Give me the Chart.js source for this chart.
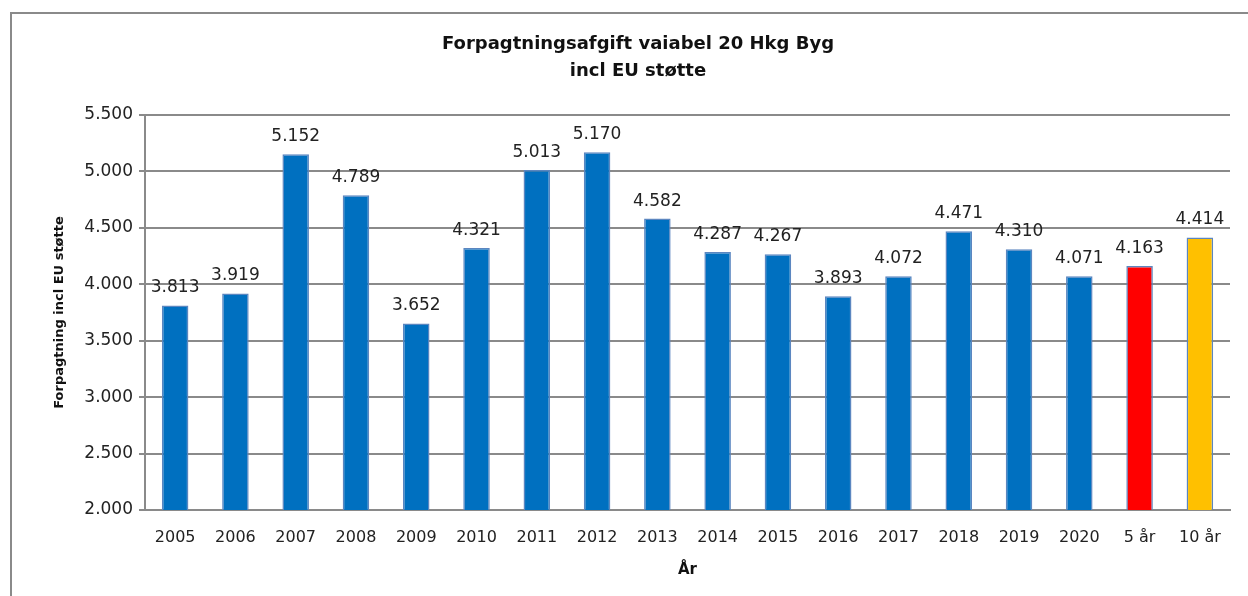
<!DOCTYPE html>
<html>
<head>
<meta charset="utf-8">
<script src="https://cdn.jsdelivr.net/npm/chart.js@4.4.1/dist/chart.umd.min.js"></script>
<style>
  body { margin: 0; background: #fff; }
  #wrap { width: 1248px; height: 596px; position: relative; }
</style>
</head>
<body>
<div id="wrap"><canvas id="myChart" width="1248" height="596"></canvas></div>
<script>
const categories = ["2005", "2006", "2007", "2008", "2009", "2010", "2011", "2012", "2013",
  "2014", "2015", "2016", "2017", "2018", "2019", "2020", "5 år", "10 år"];
const values = [3813, 3919, 5152, 4789, 3652, 4321, 5013, 5170, 4582,
  4287, 4267, 3893, 4072, 4471, 4310, 4071, 4163, 4414];
const barColors = ["#0070C0", "#0070C0", "#0070C0", "#0070C0", "#0070C0", "#0070C0",
  "#0070C0", "#0070C0", "#0070C0", "#0070C0", "#0070C0", "#0070C0", "#0070C0",
  "#0070C0", "#0070C0", "#0070C0", "#FF0000", "#FFC000"];
const yMin = 2000;
const yMax = 5500;
const yStep = 500;

const fontFam = "'DejaVu Sans', Verdana, sans-serif";

// danish thousands separator
function fmt(v) {
  return String(v).replace(/\B(?=(\d{3})+(?!\d))/g, ".");
}

// outer frame of the chart, like the excel chart area
const framePlugin = {
  id: "frame",
  beforeDraw(chart) {
    const c = chart.ctx;
    c.save();
    c.strokeStyle = "#8a8a8a";
    c.lineWidth = 2;
    c.beginPath();
    c.moveTo(11, 596);
    c.lineTo(11, 13);
    c.lineTo(1248, 13);
    c.stroke();
    c.restore();
  }
};

// value labels above bars
const labelPlugin = {
  id: "barLabels",
  afterDatasetsDraw(chart) {
    const c = chart.ctx;
    const meta = chart.getDatasetMeta(0);
    c.save();
    c.font = "17px " + fontFam;
    c.fillStyle = "#222";
    c.textAlign = "center";
    c.textBaseline = "bottom";
    meta.data.forEach((bar, i) => {
      c.fillText(fmt(values[i]), bar.x, bar.y - 9);
    });
    c.restore();
  }
};

const ctx = document.getElementById("myChart");

new Chart(ctx, {
  type: "bar",
  data: {
    labels: categories,
    datasets: [
      {
        data: values,
        backgroundColor: barColors,
        borderColor: "#5B86C0",
        borderWidth: 1.5,
        borderSkipped: false,
        categoryPercentage: 1,
        barPercentage: 0.44,
      },
    ],
  },
  options: {
    responsive: false,
    animation: false,
    events: [],
    layout: {
      padding: { top: 31, right: 18, left: 46, bottom: 17 },
    },
    plugins: {
      legend: { display: false },
      tooltip: { enabled: false },
      title: {
        display: true,
        text: ["Forpagtningsafgift vaiabel 20 Hkg Byg", "incl EU støtte"],
        color: "#111",
        font: { family: fontFam, size: 18, weight: "bold", lineHeight: 1.5 },
        padding: { top: 0, bottom: 30 },
      },
    },
    scales: {
      x: {
        afterFit(scale) { scale.height = 69; },
        grid: { display: false, drawTicks: false },
        border: { color: "#8a8a8a", width: 2 },
        ticks: {
          color: "#222",
          font: { family: fontFam, size: 16 },
          padding: 18,
          maxRotation: 0,
          autoSkip: false,
        },
        title: {
          display: true,
          text: "År",
          color: "#111",
          font: { family: fontFam, size: 15, weight: "bold" },
          padding: { top: 0, bottom: 0 },
        },
      },
      y: {
        min: yMin,
        max: yMax,
        afterFit(scale) { scale.width = 99; },
        grid: { color: "#8a8a8a", lineWidth: 2, tickLength: 6 },
        border: { color: "#8a8a8a", width: 2 },
        ticks: {
          stepSize: yStep,
          color: "#222",
          font: { family: fontFam, size: 17 },
          padding: 6,
          callback: (v) => fmt(v),
        },
        title: {
          display: true,
          text: "Forpagtning incl EU støtte",
          color: "#111",
          font: { family: fontFam, size: 13, weight: "bold" },
          padding: { top: 6, bottom: 0 },
        },
      },
    },
  },
  plugins: [framePlugin, labelPlugin],
});
</script>
</body>
</html>
